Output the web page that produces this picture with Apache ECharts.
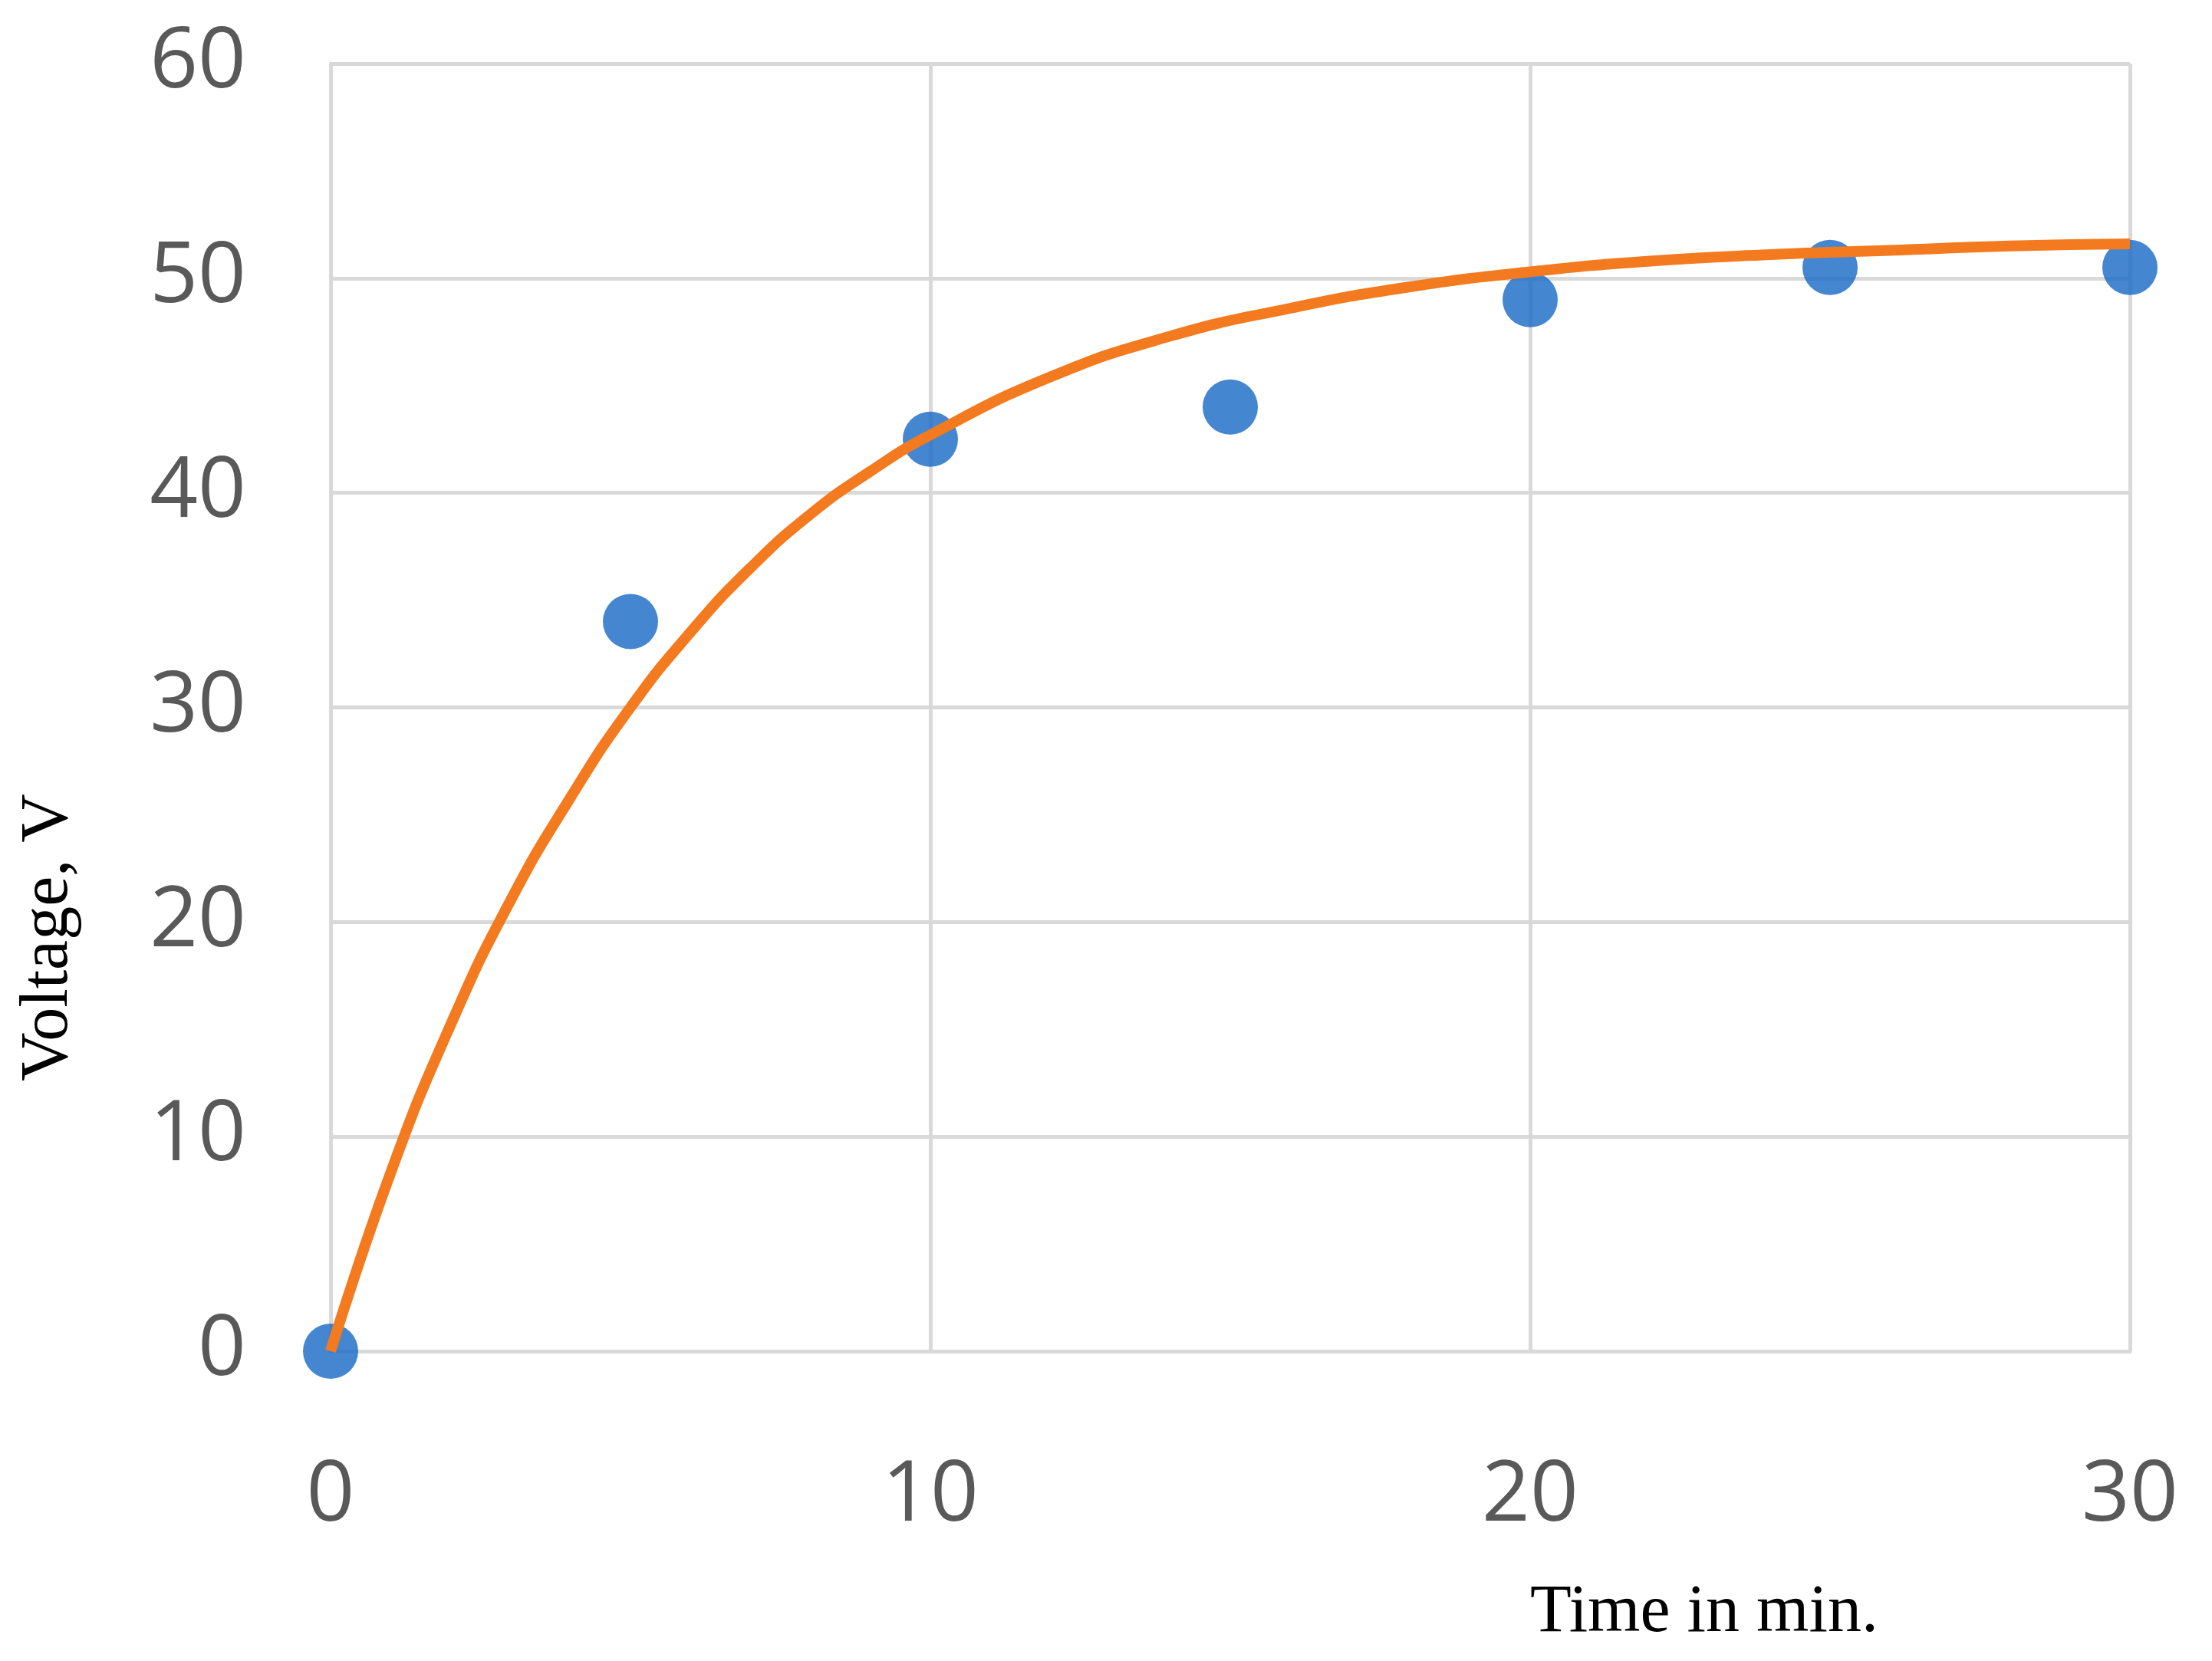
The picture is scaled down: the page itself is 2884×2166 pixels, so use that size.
<!DOCTYPE html>
<html><head><meta charset="utf-8">
<script src="https://cdn.jsdelivr.net/npm/echarts@6/dist/echarts.min.js"></script>
<style>html,body{margin:0;background:#fff}#c{width:2884px;height:2166px}</style>
</head><body><div id="c"></div>
<script>
var times = [0, 5, 10, 15, 20, 25, 30];
var voltages = [0, 34, 42.5, 44, 49, 50.5, 50.5];
var fitTimes = [0,1,2,3,4,5,6,7,8,9,10,12,14,16,18,20,22,24,26,28,30];
var fitValues = [0,8.3,15.2,21,25.8,30,33.5,36.5,39,41,42.7,45.4,47.3,48.6,49.6,50.3,50.8,51.1,51.3,51.5,51.6];
var xTitle = 'Time in min.';
var yTitle = 'Voltage, V';

var chart = echarts.init(document.getElementById('c'));
chart.setOption({
  backgroundColor: '#fff',
  animation: false,
  grid: {left: 431, right: 107, top: 83, bottom: 404, containLabel: false},
  xAxis: {type: 'value', min: 0, max: 30, interval: 10,
    axisLine: {show: true, lineStyle: {color: '#d9d9d9', width: 5}},
    axisTick: {show: false},
    splitLine: {lineStyle: {color: '#d9d9d9', width: 5}},
    axisLabel: {color: '#595959', fontSize: 110, fontFamily: 'Open Sans', margin: 135}},
  yAxis: {type: 'value', min: 0, max: 60, interval: 10,
    axisLine: {show: true, lineStyle: {color: '#d9d9d9', width: 5}},
    axisTick: {show: false},
    splitLine: {lineStyle: {color: '#d9d9d9', width: 5}},
    axisLabel: {color: '#595959', fontSize: 110, fontFamily: 'Open Sans', margin: 110}},
  graphic: [
    {type: 'text', left: 1995, top: 2060, style: {text: xTitle, font: '88px "Liberation Serif"', fill: '#000'}},
    {type: 'text', x: 20, y: 1410, rotation: Math.PI/2, style: {text: yTitle, font: '88px "Liberation Serif"', fill: '#000'}}
  ],
  series: [
    {type: 'scatter', data: times.map(function(t,i){return [t, voltages[i]];}),
     symbolSize: 72, itemStyle: {color: '#1668c6'}, z: 2},
    {type: 'line', data: fitTimes.map(function(t,i){return [t, fitValues[i]];}),
     smooth: true, showSymbol: false, lineStyle: {color: '#f47a1f', width: 14}, z: 3}
  ]
});
</script></body></html>
